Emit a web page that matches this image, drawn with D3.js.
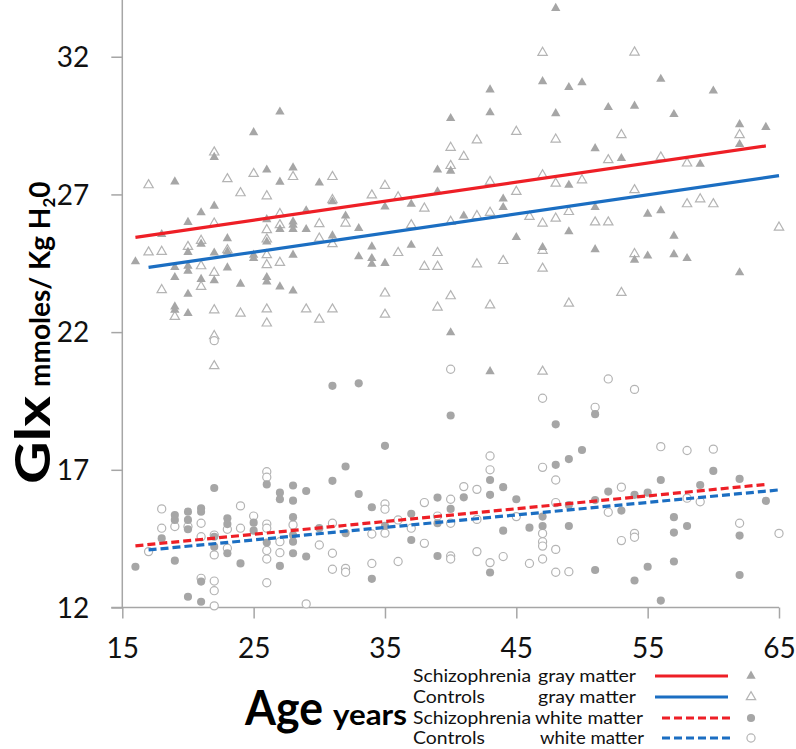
<!DOCTYPE html>
<html><head><meta charset="utf-8">
<script src="https://cdn.jsdelivr.net/npm/d3@7/dist/d3.min.js"></script>
<style>body{margin:0;background:#fff}svg{display:block}</style>
</head><body><svg id="c" width="796" height="749"></svg>
<script>
const xTicks=[15,25,35,45,55,65];
const yTicks=[12,17,22,27,32];
const seriesNames=["Schizophrenia gray matter","Controls gray matter","Schizophrenia white matter","Controls white matter"];

// [age, Glx]
const schizGray=[[16,24.56],[18,25.55],[19,27.46],[19,24.35],[19,23.99],[19,22.92],[19,22.8],[20,25.99],[20,24.9],[20,24.4],[20,24.22],[20,23.38],[20,22.68],[21,26.34],[21,25.2],[21,23.92],[22,28.35],[22,26.58],[22,24.88],[22,23.87],[23,25.4],[23,24.92],[23,24.34],[24,23.75],[25,29.25],[25,24.8],[25,24.68],[26,27.89],[26,26.09],[26,25.28],[26,23.99],[26,23.83],[27,30.0],[27,27.45],[27,25.73],[27,23.65],[28,27.97],[28,26.01],[28,25.89],[28,25.73],[28,24.8],[28,23.5],[29,25.73],[29,26.41],[30,27.42],[31,26.74],[31,25.5],[32,26.22],[33,25.77],[33,24.74],[34,25.1],[34,24.68],[34,24.47],[35,26.55],[35,24.5],[37,26.65],[37,25.16],[39,27.1],[39,27.89],[40,29.76],[40,27.85],[40,21.98],[41,26.22],[43,30.8],[43,29.97],[43,20.57],[44,26.84],[44,26.53],[45,25.44],[47,31.1],[47,25.08],[48,33.76],[48,29.94],[49,30.89],[49,27.34],[49,25.65],[50,31.06],[51,28.67],[51,26.53],[51,25.0],[52,30.16],[53,28.31],[54,30.21],[54,24.62],[55,26.29],[55,24.77],[56,31.19],[56,26.41],[57,29.91],[57,25.49],[57,24.82],[58,24.68],[59,28.1],[60,30.76],[62,29.54],[62,28.82],[62,24.16],[64,29.44]];
const controlGray=[[17,27.34],[17,24.9],[18,24.92],[18,23.53],[20,25.1],[19,22.56],[21,25.32],[21,24.4],[21,23.65],[22,28.53],[22,25.95],[22,24.16],[22,22.8],[22,21.86],[22,20.77],[23,27.56],[23,24.98],[24,27.05],[24,22.68],[25,27.75],[26,26.94],[26,25.71],[26,25.37],[26,24.8],[26,24.44],[26,22.83],[26,22.32],[27,26.29],[27,25.89],[27,24.52],[28,27.64],[29,22.83],[30,25.93],[30,25.4],[30,22.46],[31,27.64],[31,26.8],[31,25.2],[31,22.83],[32,25.95],[34,26.97],[35,27.32],[35,23.41],[35,22.64],[36,26.9],[36,24.88],[37,25.89],[38,26.49],[38,24.38],[39,24.88],[39,24.38],[39,22.9],[40,28.7],[40,28.04],[40,26.01],[40,23.31],[41,28.37],[42,28.97],[42,26.22],[42,24.47],[43,27.46],[43,26.34],[43,22.98],[44,24.59],[45,29.28],[45,27.1],[46,26.19],[47,32.15],[47,27.7],[47,25.95],[47,24.96],[47,24.31],[47,20.57],[48,29.0],[48,27.4],[48,26.13],[50,27.52],[49,26.37],[49,23.04],[51,25.99],[52,28.25],[52,25.99],[53,29.16],[53,23.43],[54,32.16],[54,27.16],[54,24.84],[56,28.35],[58,28.13],[58,26.65],[59,26.83],[60,26.65],[62,29.16],[65,25.8]];
const schizWhite=[[16,13.48],[18,14.51],[19,15.36],[19,15.18],[19,13.7],[20,15.48],[20,15.18],[20,14.84],[20,12.39],[21,15.6],[21,15.48],[21,12.94],[21,12.21],[22,16.34],[22,14.57],[22,14.21],[23,15.24],[23,15.03],[23,13.97],[24,13.6],[25,15.08],[25,14.79],[26,16.47],[26,14.36],[27,16.17],[27,15.93],[27,13.51],[28,16.43],[28,15.88],[28,15.28],[28,14.63],[28,14.39],[28,13.97],[29,16.23],[29,13.85],[30,14.88],[31,20.05],[31,16.6],[32,17.12],[32,14.7],[33,20.14],[33,16.12],[34,15.64],[34,13.04],[35,17.87],[35,14.97],[37,15.4],[37,14.45],[39,15.99],[39,15.06],[39,13.87],[40,18.97],[40,15.58],[41,16.0],[43,16.63],[43,16.09],[43,13.27],[44,16.37],[44,14.79],[45,15.93],[46,14.9],[47,15.3],[47,14.96],[48,18.65],[48,17.18],[49,17.39],[49,15.72],[49,14.96],[50,17.72],[51,19.02],[51,15.9],[51,13.36],[52,16.21],[53,15.52],[54,16.09],[54,12.98],[55,16.17],[55,13.48],[56,16.63],[56,12.25],[57,15.28],[57,14.72],[57,13.67],[58,14.96],[59,16.45],[60,16.96],[62,16.67],[62,14.61],[62,13.18],[64,15.87]];
const controlWhite=[[17,14.03],[18,15.58],[18,14.88],[19,14.94],[20,14.94],[21,15.06],[21,14.57],[21,13.06],[22,21.69],[22,14.63],[22,13.91],[22,12.96],[22,12.61],[22,12.06],[23,14.84],[23,14.15],[24,15.69],[24,14.88],[25,15.32],[26,16.93],[26,16.73],[26,15.03],[26,14.88],[26,14.07],[26,13.76],[26,12.9],[27,14.39],[27,13.99],[28,15.0],[29,12.13],[30,14.27],[31,15.06],[31,13.97],[31,13.39],[32,13.42],[32,13.28],[34,14.67],[34,13.6],[35,15.76],[35,15.57],[35,14.7],[36,15.18],[36,13.67],[37,14.88],[38,15.81],[38,14.33],[39,15.32],[40,20.65],[40,15.93],[40,15.06],[40,13.87],[40,13.76],[41,16.39],[42,16.29],[42,15.2],[42,14.03],[43,17.5],[43,17.0],[43,13.63],[44,13.85],[45,15.3],[46,13.6],[47,19.6],[47,17.09],[47,14.69],[47,14.39],[47,14.23],[47,13.76],[48,16.63],[48,15.81],[48,14.11],[48,13.28],[49,13.3],[52,20.3],[51,19.27],[52,15.46],[53,16.37],[53,14.43],[54,19.92],[54,14.69],[54,14.55],[56,17.84],[58,17.7],[58,15.97],[59,15.84],[60,17.75],[62,15.06],[65,14.69]];

// fitted trend lines [age, Glx] endpoints
const fitSchizGray=[[16,25.44],[64,28.76]];
const fitControlGray=[[17,24.35],[65,27.68]];
const fitSchizWhite=[[16,14.24],[64,16.47]];
const fitControlWhite=[[17,14.09],[65,16.27]];

const RED="#ee1f26", BLUE="#1b6ec2", GRAYF="#a6a6a6", GRAYS="#b4b4b4", AXIS="#a6a6a6";
const FONT="Lato, 'Open Sans', sans-serif";

const svg=d3.select("#c");
const x=d3.scaleLinear().domain([15,65]).range([122.3,779]);
const y=d3.scaleLinear().domain([12,34.06]).range([607.5,0]);

// axes
const gy=svg.append("g").attr("transform","translate(122.3,0)")
  .call(d3.axisLeft(y).tickValues(yTicks).tickSize(11).tickSizeOuter(0).tickPadding(22));
const gx=svg.append("g").attr("transform","translate(0,607.5)")
  .call(d3.axisBottom(x).tickValues(xTicks).tickSize(11).tickSizeOuter(0).tickPadding(20));
[gx,gy].forEach(g=>{
  g.selectAll("path.domain").attr("stroke",AXIS).attr("stroke-width",1.5);
  g.selectAll(".tick line").attr("stroke",AXIS).attr("stroke-width",1.5);
  g.selectAll(".tick text").attr("font-family",FONT).attr("font-size",28).attr("fill","#111");
});
gy.select("path.domain").attr("d","M0,0V607.5");
gx.select("path.domain").attr("d","M111.3,0H779");
gy.selectAll(".tick text").attr("dy","0.35em");
gx.selectAll(".tick text").attr("dy","0.71em");

const tri=d3.symbol().type(d3.symbolTriangle).size(38)();
const circ=d3.symbol().type(d3.symbolCircle).size(52)();

function pts(data,path,filled){
  svg.append("g").selectAll("path").data(data).join("path")
    .attr("d",path)
    .attr("transform",d=>`translate(${x(d[0])},${y(d[1])})`)
    .attr("fill",filled?GRAYF:"#fff")
    .attr("stroke",filled?"none":GRAYS)
    .attr("stroke-width",1.2);
}
pts(controlGray,tri,false);
pts(schizGray,tri,true);
pts(controlWhite,circ,false);
pts(schizWhite,circ,true);

const line=d3.line().x(d=>x(d[0])).y(d=>y(d[1]));
function fit(data,color,dash){
  svg.append("path").datum(data).attr("d",line).attr("fill","none")
    .attr("stroke",color).attr("stroke-width",3.2)
    .attr("stroke-dasharray",dash?"8,4":null);
}
fit(fitSchizGray,RED,false);
fit(fitControlGray,BLUE,false);
fit(fitSchizWhite,RED,true);
fit(fitControlWhite,BLUE,true);

// Y title
svg.append("text").attr("transform","translate(50,484) rotate(-90)")
  .attr("font-family",FONT).attr("font-weight","bold").attr("fill","#000")
  .attr("font-size",48).attr("textLength",88).attr("lengthAdjust","spacingAndGlyphs").text("Glx");
const yt=svg.append("text").attr("transform","translate(50,387) rotate(-90)")
  .attr("font-family",FONT).attr("font-weight","bold").attr("fill","#000");
yt.append("tspan").attr("font-size",28).text("mmoles/ Kg H");
yt.append("tspan").attr("font-size",17).attr("dy",5).text("2");
yt.append("tspan").attr("font-size",28).attr("dy",-5).text("0");

// X title
svg.append("text").attr("x",245).attr("y",725)
  .attr("font-family",FONT).attr("font-weight","bold").attr("fill","#000")
  .attr("font-size",47).attr("textLength",78).attr("lengthAdjust","spacingAndGlyphs").text("Age");
svg.append("text").attr("x",333).attr("y",725)
  .attr("font-family",FONT).attr("font-weight","bold").attr("fill","#000")
  .attr("font-size",28).attr("textLength",74).attr("lengthAdjust","spacingAndGlyphs").text("years");

// legend
const legY=[682,703,724,744];
const legA=["Schizophrenia","Controls","Schizophrenia","Controls"];
const legALen=[118,72,118,72];
const legB=["gray matter","gray matter","white matter","white matter"];
const legBX=[538,538,535,540];
const legBLen=[98,98,108,104];
const legColor=[RED,BLUE,RED,BLUE];
const legDash=[false,false,true,true];
const legSym=[[tri,true],[tri,false],[circ,true],[circ,false]];
const lg=svg.append("g").attr("font-family",FONT).attr("font-size",18).attr("fill","#111");
seriesNames.forEach((n,i)=>{
  lg.append("text").attr("x",413).attr("y",legY[i]).attr("textLength",legALen[i])
    .attr("lengthAdjust","spacingAndGlyphs").text(legA[i]);
  lg.append("text").attr("x",legBX[i]).attr("y",legY[i]).attr("textLength",legBLen[i])
    .attr("lengthAdjust","spacingAndGlyphs").text(legB[i]);
  const ly=legY[i]-6;
  lg.append("line").attr("x1",legDash[i]?662:655).attr("x2",legDash[i]?731:728)
    .attr("y1",ly).attr("y2",ly).attr("stroke",legColor[i]).attr("stroke-width",3.2)
    .attr("stroke-dasharray",legDash[i]?"8,4":null);
  lg.append("path").attr("d",legSym[i][0]).attr("transform",`translate(751,${ly})`)
    .attr("fill",legSym[i][1]?GRAYF:"#fff").attr("stroke",legSym[i][1]?"none":GRAYS).attr("stroke-width",1.2);
});
</script></body></html>
